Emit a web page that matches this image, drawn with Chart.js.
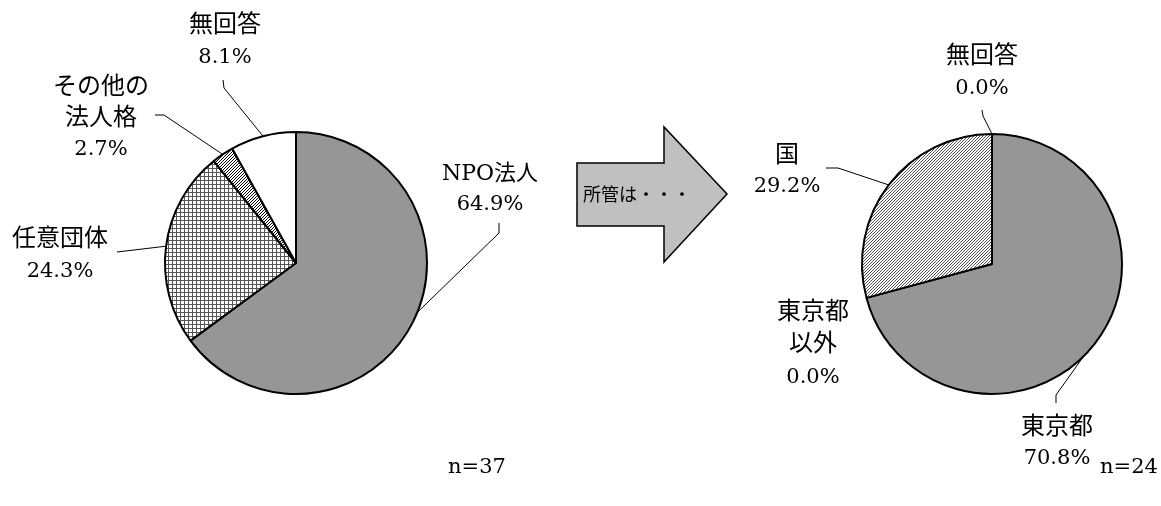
<!DOCTYPE html>
<html lang="ja">
<head>
<meta charset="utf-8">
<script src="https://cdn.jsdelivr.net/npm/chart.js@4/dist/chart.umd.min.js"></script>
<style>
  html, body { margin: 0; padding: 0; background: #fff; }
  #wrap { position: relative; width: 1161px; height: 506px; overflow: hidden; }
  #wrap canvas, #wrap svg { position: absolute; left: 0; top: 0; }
</style>
</head>
<body>
<div id="wrap">
  <canvas id="leftPie" width="1161" height="506"></canvas>
  <canvas id="rightPie" width="1161" height="506"></canvas>
  <svg width="1161" height="506">
    <polygon points="577,163 664,163 664,127 727,194 664,262 664,226 577,226"
             fill="#c0c0c0" stroke="#000" stroke-width="1.5"/>
    <text x="583" y="201" font-family="Noto Sans CJK JP" font-size="18" fill="#000">所管は・・・</text>
  </svg>
</div>
<script>
// left pie: 法人格
const leftCategories = ['NPO法人', '任意団体', 'その他の法人格', '無回答'];
const leftValues = [64.9, 24.3, 2.7, 8.1];
const leftN = 37;

// right pie: 所管
const rightCategories = ['東京都', '東京都以外', '国', '無回答'];
const rightValues = [70.8, 0.0, 29.2, 0.0];
const rightN = 24;

const valueFont = '21px "DejaVu Serif"';
// CJK-only lines get a bit more size, mixed lines (NPO法人) stay smaller
function nameFont(t) {
  const size = /[A-Za-z]/.test(t) ? 22 : 24;
  return size + 'px "DejaVu Serif", "Noto Sans CJK JP"';
}

// small fill patterns like the old office hatch fills
function makePattern(size, draw) {
  const c = document.createElement('canvas');
  c.width = c.height = size;
  const g = c.getContext('2d');
  g.fillStyle = '#fff';
  g.fillRect(0, 0, size, size);
  draw(g, size);
  return g.createPattern(c, 'repeat');
}
const gridFill = makePattern(4, (g, s) => {
  g.fillStyle = '#555';
  g.fillRect(0, 0, s, 1);
  g.fillRect(0, 0, 1, s);
});
const darkDiag = makePattern(3, (g, s) => {
  g.fillStyle = '#000';
  for (let i = 0; i < s; i++) g.fillRect(i, s - 1 - i, 1, 1);
});
const lightDiag = makePattern(3, (g, s) => {
  g.fillStyle = '#555';
  for (let i = 0; i < s; i++) g.fillRect(i, s - 1 - i, 1, 1);
});

// label layout: text lines (name lines, then value), line centers, leader path
const leftLayout = [
  { lines: ['NPO法人'], x: 490, y: [174, 205], path: [[499, 223], [499, 233]], frac: 0.48 },
  { lines: ['任意団体'], x: 60, y: [240, 272], path: [[117, 252]], frac: 0.5 },
  { lines: ['その他の', '法人格'], x: 101, y: [88, 119, 150], path: [[155, 115], [164, 115]], frac: 0.5 },
  { lines: ['無回答'], x: 225, y: [26, 58], path: [[223, 80], [224, 88]], frac: 0.5 }
];
const rightLayout = [
  { lines: ['東京都'], x: 1057, y: [428, 459], path: [[1056, 403], [1056, 395]], frac: 0.53 },
  { lines: ['東京都', '以外'], x: 813, y: [313, 345, 378], path: null, frac: 0.5 },
  { lines: ['国'], x: 787, y: [156, 187], path: [[826, 168], [838, 168]], frac: 0.5 },
  { lines: ['無回答'], x: 982, y: [57, 89], path: [[982, 110], [983, 116]], frac: 0.5 }
];

function labelPlugin(layout, values, nText, nPos) {
  return {
    id: 'pieLabels',
    afterDraw(chart) {
      const ctx = chart.ctx;
      const arcs = chart.getDatasetMeta(0).data;
      ctx.save();
      ctx.strokeStyle = '#000';
      ctx.lineWidth = 1;
      layout.forEach((lab, i) => {
        if (lab.path) {
          const a = arcs[i];
          const ang = a.startAngle + (a.endAngle - a.startAngle) * lab.frac;
          const ex = a.x + Math.cos(ang) * a.outerRadius;
          const ey = a.y + Math.sin(ang) * a.outerRadius;
          ctx.beginPath();
          ctx.moveTo(lab.path[0][0], lab.path[0][1]);
          lab.path.slice(1).forEach(p => ctx.lineTo(p[0], p[1]));
          ctx.lineTo(ex, ey);
          ctx.stroke();
        }
        ctx.fillStyle = '#000';
        ctx.textAlign = 'center';
        ctx.textBaseline = 'middle';
        const texts = lab.lines.concat([values[i].toFixed(1) + '%']);
        texts.forEach((t, k) => {
          ctx.font = k < lab.lines.length ? nameFont(t) : valueFont;
          ctx.fillText(t, lab.x, lab.y[k]);
        });
      });
      ctx.font = valueFont;
      ctx.fillText('n=' + nText, nPos[0], nPos[1]);
      ctx.restore();
    }
  };
}

function makePie(id, labels, values, fills, radius, padding, plugin) {
  return new Chart(document.getElementById(id), {
    type: 'pie',
    data: {
      labels: labels,
      datasets: [{
        data: values,
        backgroundColor: fills,
        borderColor: '#000',
        borderWidth: 2,
        radius: radius
      }]
    },
    options: {
      responsive: false,
      animation: false,
      events: [],
      layout: { padding: padding },
      plugins: { legend: { display: false }, tooltip: { enabled: false } }
    },
    plugins: [plugin]
  });
}

makePie('leftPie', leftCategories, leftValues,
  ['#969696', gridFill, darkDiag, '#fff'], 131,
  { left: 156, right: 725, top: 123, bottom: 103 },
  labelPlugin(leftLayout, leftValues, leftN, [477, 468]));

makePie('rightPie', rightCategories, rightValues,
  ['#969696', '#fff', lightDiag, '#fff'], 130,
  { left: 852, right: 29, top: 124, bottom: 102 },
  labelPlugin(rightLayout, rightValues, rightN, [1129, 468]));
</script>
</body>
</html>
